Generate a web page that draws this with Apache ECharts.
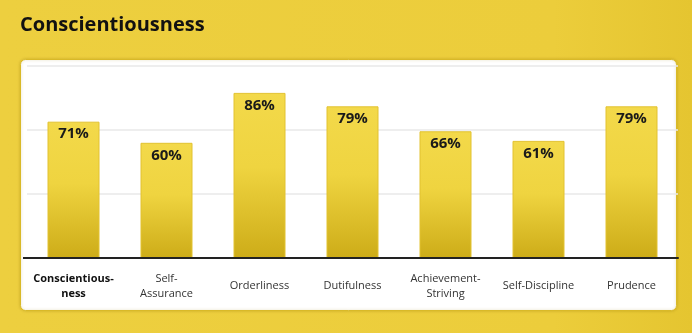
<!DOCTYPE html>
<html>
<head>
<meta charset="utf-8">
<script src="https://cdn.jsdelivr.net/npm/echarts@6/dist/echarts.min.js"></script>
<style>
  html, body { margin: 0; padding: 0; }
  body { width: 692px; height: 333px; background: linear-gradient(90deg, #EDCF3F 0%, #ECCD3B 80%, #E5C530 100%); }
  #chart { width: 692px; height: 333px; }
</style>
</head>
<body>
<div id="chart"></div>
<script>
// Facet names and scores (percent)
const categories = ['Conscientious-\nness', 'Self-\nAssurance', 'Orderliness', 'Dutifulness', 'Achievement-\nStriving', 'Self-Discipline', 'Prudence'];
const scores = [71, 60, 86, 79, 66, 61, 79];
const chartTitle = 'Conscientiousness';

const chart = echarts.init(document.getElementById('chart'), null, { renderer: 'canvas' });

const barFill = new echarts.graphic.LinearGradient(0, 0, 0, 1, [
  { offset: 0, color: '#F3D94A' },
  { offset: 0.45, color: '#EFD440' },
  { offset: 1, color: '#CDAC18' }
]);

chart.setOption({
  backgroundColor: 'transparent',
  animation: false,
  title: {
    text: chartTitle,
    left: 15,
    top: 10,
    textStyle: { fontFamily: 'Open Sans', fontWeight: 'bold', fontSize: 20, color: '#111' }
  },
  graphic: [{
    type: 'rect',
    shape: { x: 20.5, y: 59.5, width: 656, height: 251, r: 5 },
    style: { fill: '#ffffff', stroke: '#D9B928', lineWidth: 1, shadowBlur: 3, shadowColor: 'rgba(150,120,0,0.35)' },
    z: -10
  }, {
    // baseline extends slightly past the outer bars on both sides
    type: 'line',
    shape: { x1: 23, y1: 258, x2: 675, y2: 258 },
    style: { stroke: '#222', lineWidth: 2 },
    z: 10
  }],
  grid: { left: 27, right: 14, top: 66, bottom: 75 },
  xAxis: {
    type: 'category',
    data: categories,
    axisTick: { show: false },
    axisLine: { lineStyle: { color: '#222', width: 2 } },
    axisLabel: {
      interval: 0,
      margin: 28,
      verticalAlign: 'middle',
      lineHeight: 15,
      fontFamily: 'Open Sans',
      fontSize: 11,
      color: '#333',
      formatter: function (v, i) { return i === 0 ? '{b|' + v + '}' : v; },
      rich: { b: { fontFamily: 'Open Sans', fontSize: 11, fontWeight: 'bold', color: '#111', lineHeight: 15, verticalAlign: 'middle' } }
    }
  },
  yAxis: {
    type: 'value',
    min: 0,
    max: 100,
    interval: 100 / 3,
    axisLabel: { show: false },
    axisLine: { show: false },
    axisTick: { show: false },
    splitLine: { lineStyle: { color: '#E8E8E8', width: 1.5 } }
  },
  series: [{
    type: 'bar',
    data: scores,
    barWidth: 52,
    itemStyle: { color: barFill, borderColor: '#E2C230', borderWidth: 1 },
    label: {
      show: true,
      position: 'insideTop',
      distance: 5,
      formatter: '{c}%',
      fontFamily: 'Open Sans',
      fontWeight: 'bold',
      fontSize: 15,
      color: '#1a1a1a'
    }
  }]
});
</script>
</body>
</html>
